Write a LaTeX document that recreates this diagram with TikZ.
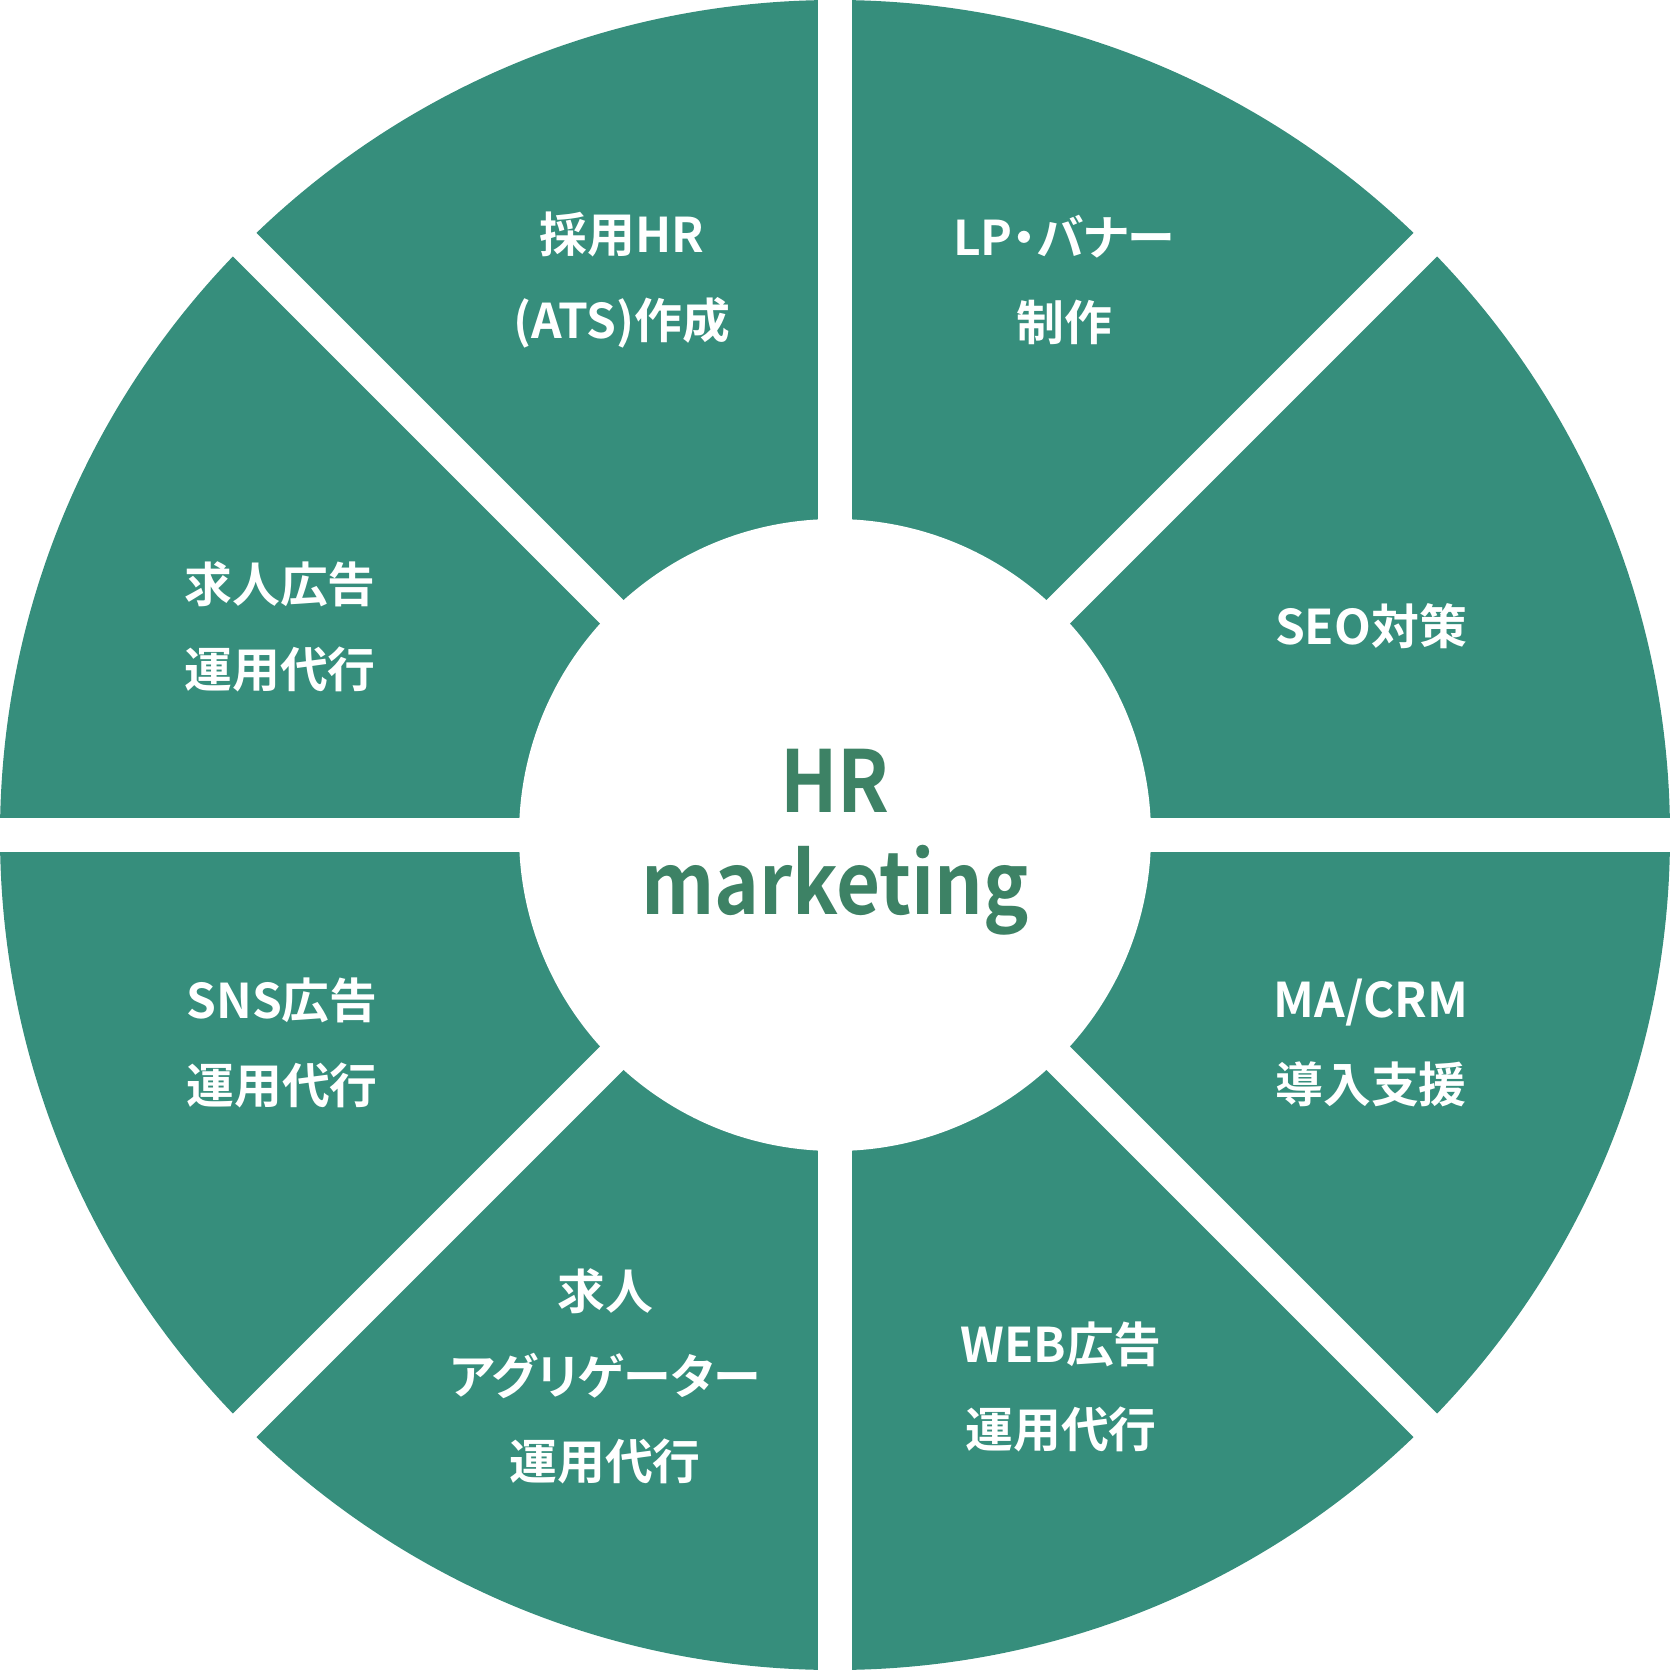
\documentclass[tikz,border=0pt]{standalone}
\usepackage{fontspec}
\usetikzlibrary{calc}
\newfontfamily\jp{Noto Sans CJK JP}[BoldFont={Noto Sans CJK JP Bold},BoldFeatures={RawFeature=+palt}]
\newfontfamily\hrfont{Noto Sans CJK JP Bold}[FakeStretch=0.89]
\definecolor{sector}{HTML}{368E7C}
\definecolor{hrgreen}{HTML}{3D8265}
\begin{document}
\begin{tikzpicture}[x=0.01cm,y=-0.01cm,
  lbl/.style={text=white,font=\jp\bfseries\fontsize{13.6pt}{24.2pt}\selectfont,align=center,inner sep=0pt},
  gap/.style={white,line width=9.4pt}]
\useasboundingbox (0,0) rectangle (1670,1670);
\coordinate (c) at (835,835);
\fill[sector] (c) circle (835);
\draw[gap] (835,-10) -- (835,1680);
\draw[gap] (-10,835) -- (1680,835);
\draw[gap] ($(c)+(-600,-600)$) -- ($(c)+(600,600)$);
\draw[gap] ($(c)+(600,-600)$) -- ($(c)+(-600,600)$);
\fill[white] (c) circle (316);
\node[lbl] (t1) at (622,280) {採用HR\\(ATS)作成};
\node[lbl] (t2) at (1064,280) {LP・バナー\\制作};
\node[lbl] (t3) at (1371,626) {SEO対策};
\node[lbl] (t4) at (1371,1043) {MA/CRM\\導入支援};
\node[lbl] (t5) at (1061,1387) {WEB広告\\運用代行};
\node[lbl] (t6) at (605,1376) {求人\\アグリゲーター\\運用代行};
\node[lbl] (t7) at (282,1043) {SNS広告\\運用代行};
\node[lbl] (t8) at (280,627) {求人広告\\運用代行};
\node[text=hrgreen,font=\hrfont\fontsize{24.3pt}{29pt}\selectfont,align=center,inner sep=0pt] (hr) at (835,842) {HR\\marketing};
\end{tikzpicture}
\end{document}
